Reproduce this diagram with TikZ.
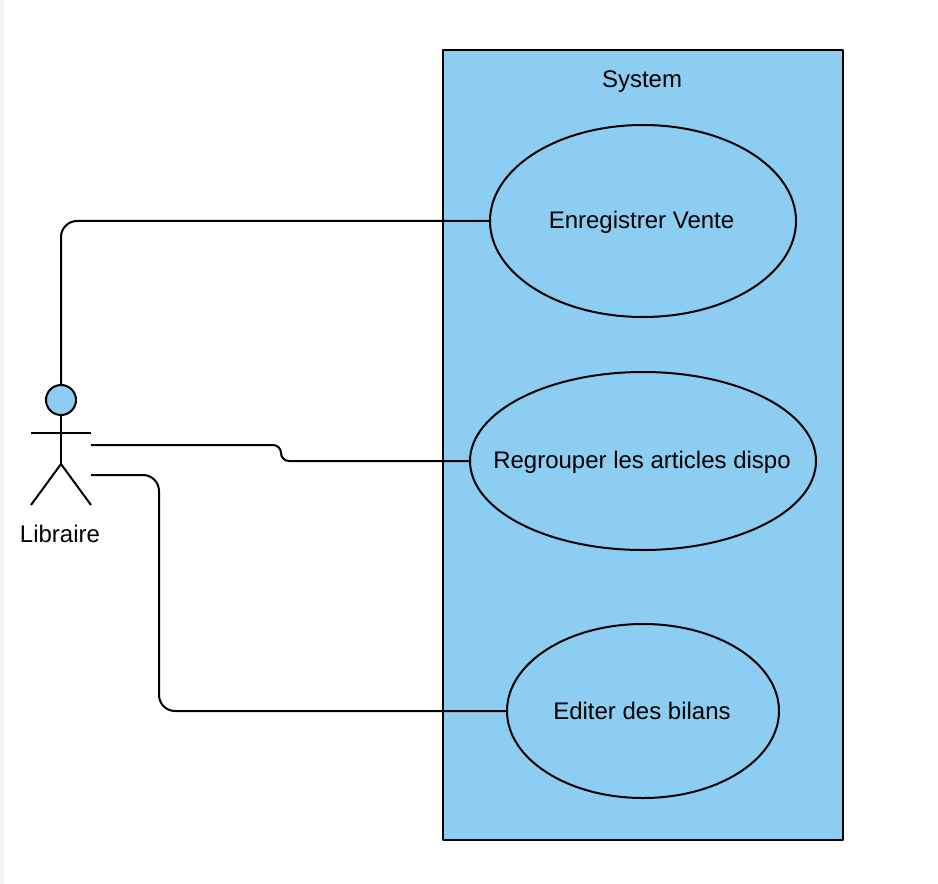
\documentclass[tikz,border=0pt]{standalone}
\usepackage{fontspec}
\setmainfont{Liberation Sans}
\usetikzlibrary{shapes.geometric}
\definecolor{usecaseblue}{HTML}{8DCDF2}
\definecolor{stripgrey}{HTML}{F3F3F3}
\def\px{0.75pt}
\def\wid{1.5pt}
\tikzset{
	usecase/.style = {ellipse, draw, fill=usecaseblue, line width=\wid, inner sep=0pt, outer sep=0pt},
	label/.style = {font=\fontsize{18}{21}\selectfont, inner sep=0pt},
	link/.style = {line width=\wid, line cap=butt}
}

\begin{document}
\begin{tikzpicture}[x=\px, y=-\px, line join = round]
		\useasboundingbox (0,0) rectangle (938,884);
		% Left strip
		\fill[stripgrey] (0,0) rectangle (4,884);
		
		% System
		\node[draw, fill=usecaseblue, line width=\wid, inner sep=0pt, outer sep=0pt,
			  minimum width=400*\px, minimum height=790*\px] (system) at (643,445) {};
		\node[label] (systemlabel) at (642,82) {System};
		
		% Use cases
		\node[usecase, minimum width=306*\px, minimum height=192*\px] (vente) at (643,221) {};
		\node[usecase, minimum width=346*\px, minimum height=178*\px] (articles) at (643,461) {};
		\node[usecase, minimum width=272*\px, minimum height=174*\px] (bilans) at (643,711) {};
		\node[label] (ventelabel) at (641.5,222) {Enregistrer Vente};
		\node[label] (articleslabel) at (642,462) {Regrouper les articles dispo};
		\node[label] (bilanslabel) at (642,711) {Editer des bilans};
		
		% Actor
		\node[circle, draw, fill=usecaseblue, line width=\wid, inner sep=0pt, outer sep=0pt,
			  minimum size=30*\px] (head) at (61,400) {};
		\coordinate (hip) at (61,464);
		\coordinate (arml) at (31,433);
		\coordinate (armr) at (91,433);
		\coordinate (legl) at (31,505);
		\coordinate (legr) at (91,505);
		\draw[link] (head.south) -- (hip);
		\draw[link] (arml) -- (armr);
		\draw[link] (legl) -- (hip) -- (legr);
		\node[label] (actorlabel) at (60,534) {Libraire};
		
		% Connectors
		\coordinate (start1) at (91,445);
		\coordinate (start2) at (91,475);
		\draw[link, rounded corners=16*\px] (head.north) |- (vente.west);
		\draw[link, rounded corners=8*\px] (start1) -- (281,445) -- (281,461) -- (articles.west);
		\draw[link, rounded corners=16*\px] (start2) -- (159,475) |- (bilans.west);
	\end{tikzpicture}
\end{document}
